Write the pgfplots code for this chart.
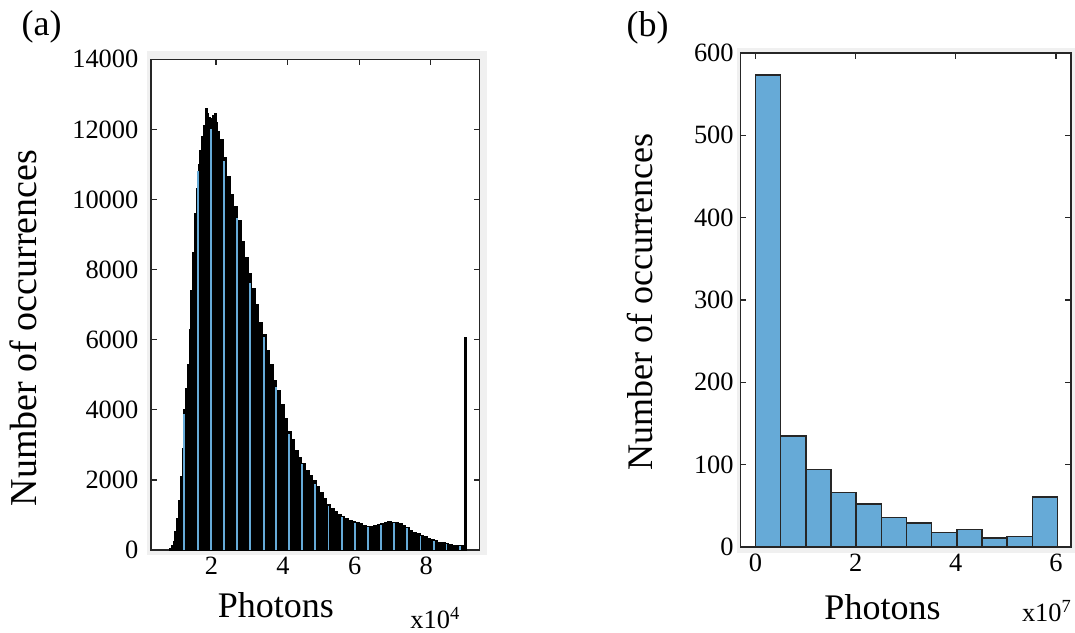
\documentclass[border=0pt]{standalone}
\usepackage{fontspec}
\setmainfont{Liberation Serif}
\usepackage{pgfplots}
\pgfplotsset{compat=1.18}
\definecolor{histblue}{RGB}{102,170,215}
\definecolor{axgray}{RGB}{38,38,38}
\definecolor{figgray}{RGB}{240,240,240}

\begin{document}
\begin{tikzpicture}
\useasboundingbox (0,0) rectangle (537.5pt,316pt);
\fill[figgray] (73.3pt,38.5pt) rectangle (243.3pt,290.6pt);
\fill[figgray] (368.3pt,39.5pt) rectangle (537.5pt,292pt);

\pgfplotsset{myax/.style={scale only axis,
  scaled x ticks=false, scaled y ticks=false,
  axis line style={axgray, line width=0.75pt},
  major tick style={axgray, line width=0.6pt},
  major tick length=2.8pt, tick align=inside,
  ticklabel style={font=\fontsize{13.2}{15}\selectfont, text=black},
  axis background/.style={fill=white}}}

% ---------------- panel (a) ----------------
\begin{axis}[myax, at={(75.5pt,41pt)}, anchor=south west,
  width=164.15pt, height=245.35pt,
  xmin=0.184, xmax=9.355, ymin=0, ymax=14000,
  xtick={2,4,6,8}, xticklabels={2,4,6,8},
  ytick={0,2000,4000,6000,8000,10000,12000,14000},
  yticklabels={0,2000,4000,6000,8000,10000,12000,14000},
  xticklabel style={xshift=-2.3pt}, yticklabel style={xshift=-2.8pt}]
\addplot[ybar interval, fill=black, draw=black, line width=0.5pt] coordinates {
(0.7,30) (0.75,120) (0.8,250) (0.85,520) (0.9,900) (0.95,1400) (1.0,2100) (1.05,2900)
(1.1,4000) (1.15,4600) (1.2,5300) (1.25,6300) (1.3,7400) (1.35,8500) (1.4,9600)
(1.45,10300) (1.5,11000) (1.55,11400) (1.6,11800) (1.65,12100) (1.7,12600) (1.75,12450)
(1.8,12350) (1.85,12300) (1.9,12400) (1.95,12450) (2.0,12200) (2.05,11950) (2.1,11700)
(2.2,11200) (2.3,10650) (2.4,10150) (2.5,9800) (2.6,9400) (2.7,8800) (2.8,8350)
(2.9,7900) (3.0,7450) (3.1,7000) (3.2,6500) (3.3,6150) (3.4,5700) (3.5,5280)
(3.6,4850) (3.7,4550) (3.8,4150) (3.9,3750) (4.0,3380) (4.1,3150) (4.2,2850)
(4.3,2650) (4.4,2480) (4.5,2280) (4.6,2120) (4.7,1970) (4.8,1820) (4.9,1650)
(5.0,1480) (5.1,1300) (5.2,1190) (5.3,1100) (5.4,1010) (5.5,960) (5.6,900)
(5.7,850) (5.8,800) (5.9,780) (6.0,750) (6.1,700) (6.2,660) (6.3,680) (6.4,700)
(6.5,720) (6.6,750) (6.7,780) (6.8,800) (6.9,790) (7.0,780) (7.1,750) (7.2,700)
(7.3,640) (7.4,560) (7.5,500) (7.6,460) (7.7,420) (7.8,380) (7.9,340) (8.0,300)
(8.1,260) (8.2,220) (8.3,200) (8.4,180) (8.5,160) (8.6,140) (8.7,130) (8.8,115)
(8.9,100) (8.95,6050) (9.0,6050)};
\addplot[ycomb, histblue, line width=0.9pt, mark=none] coordinates {
(1.11,3890) (1.50,10800) (1.86,12000) (2.22,11100) (2.58,9480) (2.96,7630)
(3.33,6070) (3.68,4650) (4.04,3320) (4.40,2450) (4.77,1880) (5.14,1260)
(5.51,950) (5.88,770) (6.24,650) (6.61,720) (6.98,770) (7.34,620) (7.71,410)
(8.08,270) (8.44,170) (8.81,110)};
\end{axis}

% ---------------- panel (b) ----------------
\begin{axis}[myax, at={(370.35pt,42.5pt)}, anchor=south west,
  width=165.15pt, height=247pt,
  xmin=-0.296, xmax=6.30, ymin=0, ymax=600,
  xtick={0,2,4,6}, xticklabels={0,2,4,6},
  ytick={0,100,200,300,400,500,600},
  yticklabels={0,100,200,300,400,500,600}]
\addplot[ybar interval, fill=histblue, draw=axgray, line width=0.75pt] coordinates {
(0,573) (0.5025,135) (1.005,94) (1.5075,66) (2.01,52) (2.5125,36) (3.015,29)
(3.5175,17.5) (4.02,21) (4.5225,11) (5.025,13) (5.5275,61) (6.03,61)};
\end{axis}

% ---------------- texts ----------------
\node[rotate=90, font=\fontsize{19}{22}\selectfont] at (11.6pt,152pt) {Number of occurrences};
\node[rotate=90, font=\fontsize{18}{21}\selectfont] at (320pt,165pt) {Number of occurrences};
\node[font=\fontsize{18}{21}\selectfont] at (137.9pt,13.5pt) {Photons};
\node[font=\fontsize{18}{21}\selectfont] at (441.25pt,12.5pt) {Photons};
\node[anchor=base west, inner sep=0pt, font=\fontsize{13.2}{15}\selectfont] at (205pt,2pt) {x10\textsuperscript{4}};
\node[anchor=base west, inner sep=0pt, font=\fontsize{13.2}{15}\selectfont] at (510.8pt,5.2pt) {x10\textsuperscript{7}};
\node[font=\fontsize{18}{21}\selectfont] at (20.85pt,302.5pt) {(a)};
\node[font=\fontsize{18}{21}\selectfont] at (323.75pt,302pt) {(b)};
\end{tikzpicture}
\end{document}
